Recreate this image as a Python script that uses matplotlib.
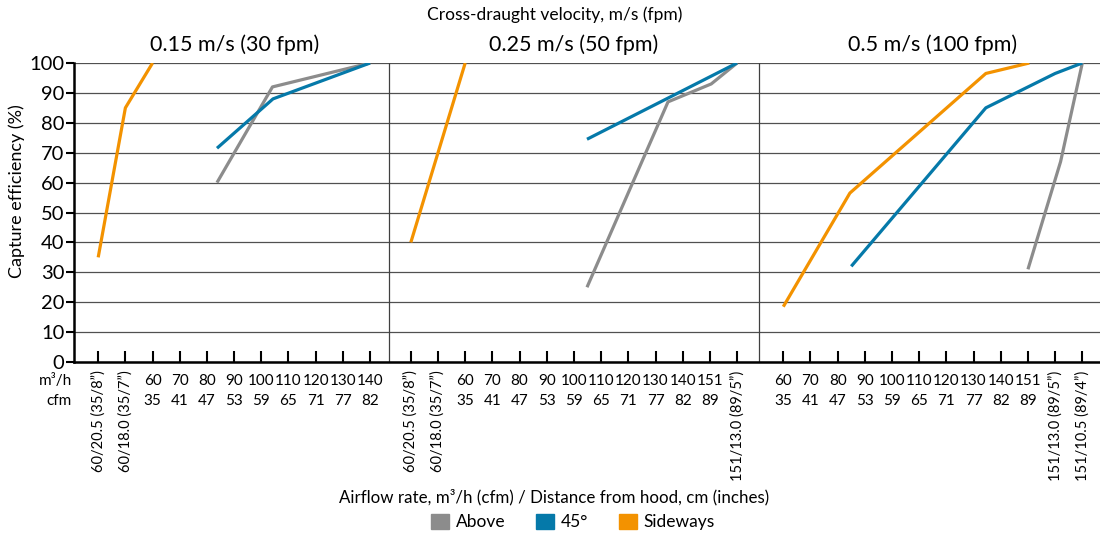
import matplotlib.pyplot as plt
from matplotlib.patches import Patch

plt.rcParams['font.family'] = ['Lato', 'DejaVu Sans']

# tick positions (category slots) for the three velocity panels
p1_pos = [0, 1, 2, 3, 4, 5, 6, 7, 8, 9, 10]
p1_m3h = ['', '', '60', '70', '80', '90', '100', '110', '120', '130', '140']
p1_cfm = ['', '', '35', '41', '47', '53', '59', '65', '71', '77', '82']
p1_dist = ['60/20.5 (35/8”)', '60/18.0 (35/7”)'] + [''] * 9

p2_pos = [11.5, 12.5, 13.5, 14.5, 15.5, 16.5, 17.5, 18.5, 19.5, 20.5, 21.5, 22.5, 23.5]
p2_m3h = ['', '', '60', '70', '80', '90', '100', '110', '120', '130', '140', '151', '']
p2_cfm = ['', '', '35', '41', '47', '53', '59', '65', '71', '77', '82', '89', '']
p2_dist = ['60/20.5 (35/8”)', '60/18.0 (35/7”)'] + [''] * 10 + ['151/13.0 (89/5”)']

p3_pos = [25.2, 26.2, 27.2, 28.2, 29.2, 30.2, 31.2, 32.2, 33.2, 34.2, 35.2, 36.2]
p3_m3h = ['60', '70', '80', '90', '100', '110', '120', '130', '140', '151', '', '']
p3_cfm = ['35', '41', '47', '53', '59', '65', '71', '77', '82', '89', '', '']
p3_dist = [''] * 10 + ['151/13.0 (89/5”)', '151/10.5 (89/4”)']

dividers = [10.7, 24.3]
panel_titles = ['0.15 m/s (30 fpm)', '0.25 m/s (50 fpm)', '0.5 m/s (100 fpm)']
panel_centers = [5, 17.5, 30.7]

# series: (x slot, capture efficiency %)
above_x = [[4.37, 6.41, 10], [17.98, 20.96, 22.55, 23.5], [34.2, 35.4, 36.2]]
above_y = [[60, 92, 100], [25, 87, 93, 100], [31, 67, 100]]
deg45_x = [[4.37, 6.43, 10], [17.98, 23.5], [27.7, 32.65, 35.2, 36.2]]
deg45_y = [[71.5, 88, 100], [74.5, 100], [32, 85, 96.5, 100]]
side_x = [[0, 1, 2], [11.5, 13.5], [25.2, 27.65, 32.65, 34.25]]
side_y = [[35, 85, 100], [40, 100], [18.5, 56.5, 96.5, 100]]

c_above = '#8c8c8c'
c_45 = '#0579a9'
c_side = '#f39200'

fig = plt.figure(figsize=(11, 5.35), dpi=100)
ax = fig.add_axes([74 / 1100, 173 / 535, 1 - 74 / 1100, 299 / 535])

for i in range(3):
    ax.plot(above_x[i], above_y[i], color=c_above, lw=2.3, solid_capstyle='butt', zorder=3)
    ax.plot(deg45_x[i], deg45_y[i], color=c_45, lw=2.3, solid_capstyle='butt', zorder=3)
    ax.plot(side_x[i], side_y[i], color=c_side, lw=2.3, solid_capstyle='butt', zorder=3)

ax.set_xlim(-0.89, 36.85)
ax.set_ylim(0, 100)
ax.set_yticks(range(0, 101, 10))
ax.yaxis.grid(True, color='#505050', lw=0.9)
ax.set_axisbelow(True)
ax.tick_params(axis='y', labelsize=14.5, length=6, width=1.5, direction='out', pad=1)

all_pos = p1_pos + p2_pos + p3_pos
ax.set_xticks(all_pos)
ax.set_xticklabels([])
ax.tick_params(axis='x', length=8, width=1.5, direction='in')

for s in ['top', 'right']:
    ax.spines[s].set_visible(False)
for s in ['left', 'bottom']:
    ax.spines[s].set_linewidth(1.8)

for d in dividers:
    ax.axvline(d, color='#404040', lw=0.9, zorder=1)

trans = ax.get_xaxis_transform()
for pos, m3h, cfm, dist in zip(all_pos, p1_m3h + p2_m3h + p3_m3h,
                               p1_cfm + p2_cfm + p3_cfm, p1_dist + p2_dist + p3_dist):
    ax.text(pos, -0.063, m3h, transform=trans, ha='center', va='center', fontsize=11)
    ax.text(pos, -0.13, cfm, transform=trans, ha='center', va='center', fontsize=11)
    if dist:
        ax.text(pos, -0.028, dist, transform=trans, ha='center', va='top',
                rotation=90, fontsize=10.5)

ax.text(-0.97, -0.063, 'm³/h', transform=trans, ha='right', va='center', fontsize=11)
ax.text(-0.97, -0.13, 'cfm', transform=trans, ha='right', va='center', fontsize=11)

for t, c in zip(panel_titles, panel_centers):
    ax.text(c, 1.06, t, transform=trans, ha='center', va='center', fontsize=15.5)

fig.text(555 / 1100, 1 - 15 / 535, 'Cross-draught velocity, m/s (fpm)',
         ha='center', va='center', fontsize=12.5)
fig.text(17 / 1100, 1 - 191 / 535, 'Capture efficiency (%)', rotation=90,
         ha='center', va='center', fontsize=13)
fig.text(554 / 1100, 1 - 497 / 535,
         'Airflow rate, m³/h (cfm) / Distance from hood, cm (inches)',
         ha='center', va='center', fontsize=12.2)

handles = [Patch(color=c_above, label='Above'),
           Patch(color=c_45, label='45°'),
           Patch(color=c_side, label='Sideways')]
fig.legend(handles=handles, loc='center', bbox_to_anchor=(573 / 1100, 1 - 522 / 535),
           ncol=3, frameon=False, fontsize=12.5, handlelength=1.0, handleheight=1.0,
           handletextpad=0.4, columnspacing=1.8, borderpad=0)

fig.savefig('out.png', dpi=100)
